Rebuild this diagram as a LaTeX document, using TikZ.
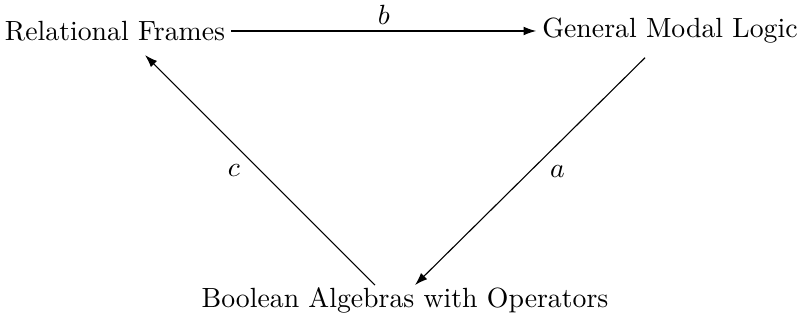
\documentclass[tikz,border=0pt]{standalone}
\usepackage{tikz}
\usetikzlibrary{positioning,arrows.meta,calc}

\begin{document}
\begin{tikzpicture}[
  x=0.36pt, y=-0.36pt,
  obj/.style={inner sep=2pt, font=\normalsize},
  map/.style={-{Latex[length=1.6mm,width=1.1mm]}, line width=0.4pt},
  lbl/.style={font=\normalsize, inner sep=1pt},
]
\useasboundingbox (0,0) rectangle (802,324);

% ── Objects ───────────────────────────────────────────────────────────────────
\node[obj] (rf)  at (115,31)  {Relational Frames};
\node[obj] (gml) at (670,31)  {General Modal Logic};
\node[obj] (bao) at (405,300) {Boolean Algebras with Operators};

% ── Maps between them ─────────────────────────────────────────────────────────
\draw[map] (rf.east) -- (gml.west) node[lbl, midway, above=1pt] {$b$};
\draw[map] ($(gml.south)+(-25,8)$) -- ($(bao.north)+(10,4)$)
  node[lbl, midway, right=6pt] {$a$};
\draw[map] ($(bao.north)+(-30,4)$) -- ($(rf.south)+(30,8)$)
  node[lbl, midway, left=6pt] {$c$};

\end{tikzpicture}
\end{document}
